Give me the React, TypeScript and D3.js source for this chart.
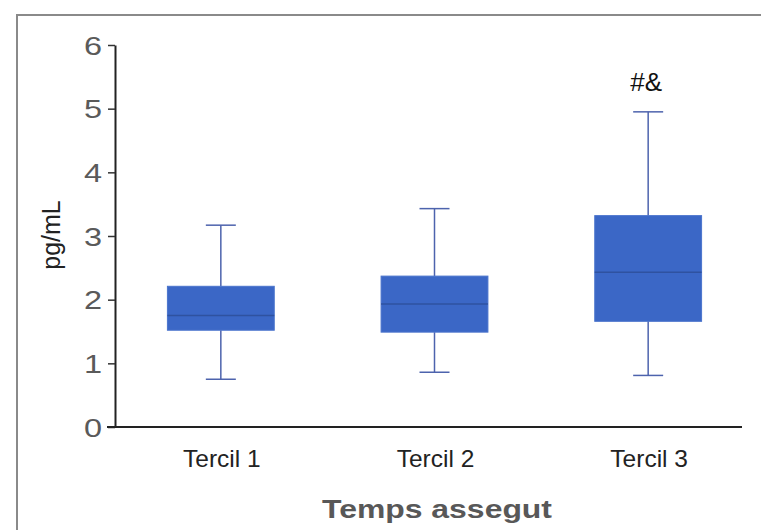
import React, { useEffect, useRef } from 'react';
import * as d3 from 'd3';

const categories = ['Tercil 1', 'Tercil 2', 'Tercil 3'];
const whiskerLow = [0.75, 0.86, 0.81];
const q1 = [1.52, 1.49, 1.66];
const median = [1.75, 1.93, 2.43];
const q3 = [2.21, 2.37, 3.32];
const whiskerHigh = [3.17, 3.43, 4.95];
const annotations = ['', '', '#&'];
const yTicks = [0, 1, 2, 3, 4, 5, 6];

const W = 761;
const H = 530;
const FONT = 'Liberation Sans, Arial, sans-serif';

export default function App() {
  const ref = useRef<SVGSVGElement>(null);

  useEffect(() => {
    const svg = d3.select(ref.current);
    svg.selectAll('*').remove();

    // outer frame
    svg.append('rect')
      .attr('x', 17).attr('y', 15)
      .attr('width', W).attr('height', H)
      .attr('fill', 'none')
      .attr('stroke', '#8a8a8a')
      .attr('stroke-width', 2);

    const x = d3.scaleBand()
      .domain(categories)
      .range([114, 755])
      .paddingInner(0.5)
      .paddingOuter(0.25);

    const y = d3.scaleLinear().domain([0, 6]).range([427, 45]);

    // y axis
    const yAxis = svg.append('g')
      .attr('transform', 'translate(115,0)')
      .call(d3.axisLeft(y).tickValues(yTicks).tickSize(7).tickSizeOuter(0).tickPadding(0).tickFormat(d3.format('d')));
    yAxis.select('.domain').attr('stroke', '#222').attr('stroke-width', 2);
    yAxis.selectAll('.tick line').attr('stroke', '#333').attr('stroke-width', 1.5);
    // digits in the reference are drawn wide
    yAxis.selectAll('.tick text')
      .attr('x', null)
      .attr('dy', null)
      .attr('fill', '#5a5a5a')
      .attr('transform', 'translate(-13,9) scale(1.3,1)')
      .style('font-family', FONT)
      .style('font-size', '25px');

    // x axis line
    svg.append('line')
      .attr('x1', 107).attr('x2', 742)
      .attr('y1', y(0)).attr('y2', y(0))
      .attr('stroke', '#222').attr('stroke-width', 2);

    const bw = x.bandwidth();
    const idx = d3.range(categories.length);

    const g = svg.append('g');
    const cx = (i: number) => (x(categories[i]) as number) + bw / 2;

    // whiskers
    g.selectAll('line.whisker-up').data(idx).enter().append('line')
      .attr('x1', cx).attr('x2', cx)
      .attr('y1', i => y(q3[i])).attr('y2', i => y(whiskerHigh[i]))
      .attr('stroke', '#4d63ad').attr('stroke-width', 1.5);
    g.selectAll('line.whisker-down').data(idx).enter().append('line')
      .attr('x1', cx).attr('x2', cx)
      .attr('y1', i => y(q1[i])).attr('y2', i => y(whiskerLow[i]))
      .attr('stroke', '#4d63ad').attr('stroke-width', 1.5);
    g.selectAll('line.cap-up').data(idx).enter().append('line')
      .attr('x1', i => cx(i) - 15).attr('x2', i => cx(i) + 15)
      .attr('y1', i => y(whiskerHigh[i])).attr('y2', i => y(whiskerHigh[i]))
      .attr('stroke', '#4d63ad').attr('stroke-width', 1.5);
    g.selectAll('line.cap-down').data(idx).enter().append('line')
      .attr('x1', i => cx(i) - 15).attr('x2', i => cx(i) + 15)
      .attr('y1', i => y(whiskerLow[i])).attr('y2', i => y(whiskerLow[i]))
      .attr('stroke', '#4d63ad').attr('stroke-width', 1.5);

    // boxes
    g.selectAll('rect.box').data(idx).enter().append('rect')
      .attr('x', i => x(categories[i]) as number)
      .attr('y', i => y(q3[i]))
      .attr('width', bw)
      .attr('height', i => y(q1[i]) - y(q3[i]))
      .attr('fill', '#3b67c6')
      .attr('stroke', '#4a74cc')
      .attr('stroke-width', 1);

    // medians
    g.selectAll('line.median').data(idx).enter().append('line')
      .attr('x1', i => x(categories[i]) as number)
      .attr('x2', i => (x(categories[i]) as number) + bw)
      .attr('y1', i => y(median[i])).attr('y2', i => y(median[i]))
      .attr('stroke', '#2f52a0').attr('stroke-width', 1.5);

    // annotations
    g.selectAll('text.annot').data(idx).enter().append('text')
      .attr('x', i => cx(i) - 2)
      .attr('y', 91)
      .attr('text-anchor', 'middle')
      .attr('fill', '#111')
      .style('font-family', FONT)
      .style('font-size', '26px')
      .text(i => annotations[i]);

    // x tick labels
    g.selectAll('text.xlab').data(idx).enter().append('text')
      .attr('x', i => cx(i) + 1)
      .attr('y', 467)
      .attr('text-anchor', 'middle')
      .attr('fill', '#222')
      .style('font-family', FONT)
      .style('font-size', '24.5px')
      .text(i => categories[i]);

    // axis titles
    svg.append('text')
      .attr('x', 437).attr('y', 518)
      .attr('text-anchor', 'middle')
      .attr('fill', '#585858')
      .attr('textLength', 230)
      .attr('lengthAdjust', 'spacingAndGlyphs')
      .style('font-family', FONT)
      .style('font-size', '26px')
      .style('font-weight', 'bold')
      .text('Temps assegut');

    svg.append('text')
      .attr('transform', 'translate(60,235) rotate(-90)')
      .attr('text-anchor', 'middle')
      .attr('fill', '#222')
      .style('font-family', FONT)
      .style('font-size', '25px')
      .text('pg/mL');
  }, []);

  return (
    <svg ref={ref} width={W} height={H}
      style={{ position: 'absolute', left: 0, top: 0, display: 'block', background: '#fff' }} />
  );
}
